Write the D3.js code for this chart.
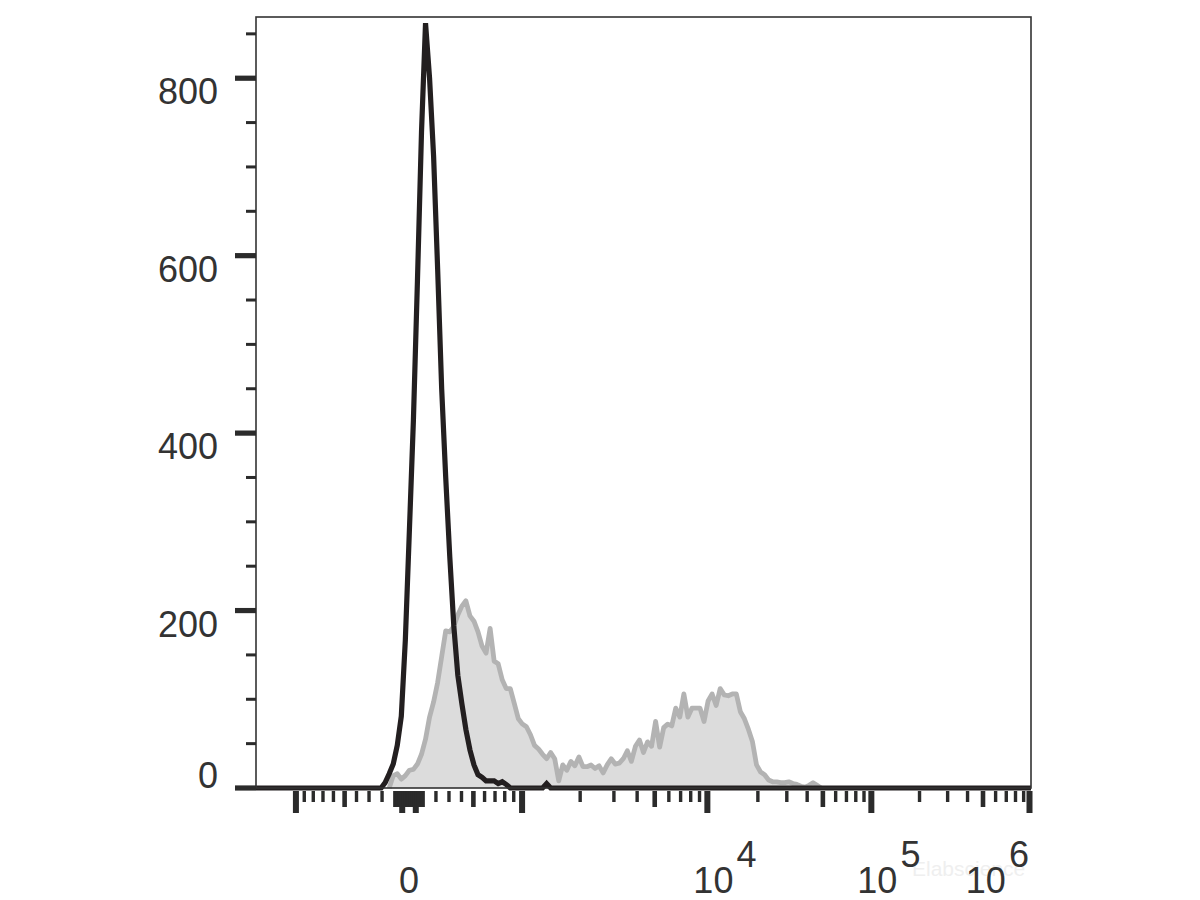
<!DOCTYPE html>
<html><head><meta charset="utf-8">
<script src="https://cdn.jsdelivr.net/npm/d3@7"></script>
<style>body{margin:0;background:#fff} text{font-family:"Liberation Sans",Arial,sans-serif}</style>
</head><body><svg id="chart" width="1200" height="900"></svg>
<script>
// ---------------- data ----------------
const channelCount = 192;           // histogram channels across the biexponential axis
const grayStart = 33;               // first channel of the stained (filled, gray) histogram
const grayCounts = [0,14,16,10,14,20,21,27,38,55,
  80,97,119,148,177,176,182,195,205,211,
  194,188,176,160,152,180,143,140,122,112,
  112,95,78,72,69,60,48,44,38,33,
  40,33,8,26,20,30,25,35,24,24,
  26,22,25,17,26,33,27,28,33,42,
  30,47,54,40,52,47,75,46,68,72,
  70,90,80,106,80,90,90,90,75,98,
  106,93,112,105,104,106,106,86,78,66,
  52,26,18,15,9,7,7,6,6,7,
  5,4,2,1,3,6,3,0];
const blackStart = 31;              // first channel of the control (black line) histogram
const blackCounts = [0,6,16,27,48,81,167,290,415,572,
  739,862,800,712,585,450,350,261,183,127,
  95,66,43,26,15,12,8,8,8,5,
  7,4,0,0,0,0,0,0,0,0,
  0,5,0];
const yMajorTicks = [0,200,400,600,800];
const yMajorLabels = ["0","200","400","600","800"];
const yMinorTicks = [50,100,150,250,300,350,450,500,550,650,700,750,850];
const xLabelValues = [0,1e4,1e5,1e6];
const xLabelBases = ["0","10","10","10"];
const xLabelExponents = ["","4","5","6"];
const xLongTicks = [-1000,-50,50,1000,1e4,1e5,1e6];
const xMediumTicks = [-500,500,5e3,5e4,5e5,-100,-90,-80,-70,-60,-40,-30,-20,-10,0,10,20,30,40,60,70,80,90,100];
const xShortTicks = [-900,-800,-700,-600,-400,-300,-200,200,300,400,600,700,800,900,
  2e3,3e3,4e3,6e3,7e3,8e3,9e3,2e4,3e4,4e4,6e4,7e4,8e4,9e4,2e5,3e5,4e5,6e5,7e5,8e5,9e5];
const yMax = 869;

// ---------------- logicle transform ----------------
const LP = 3.15, LK = 122.46;
function logicleInv(u){const s=Math.sign(u),a=Math.abs(u);return s*LK*(Math.pow(10,a)-LP*LP*Math.pow(10,-a/LP)+LP*LP-1);}
function logicle(v){const s=Math.sign(v),a=Math.abs(v);let lo=0,hi=7;for(let i=0;i<60;i++){const m=(lo+hi)/2;if(logicleInv(m)<a)lo=m;else hi=m;}return s*(lo+hi)/2;}
const uMin = -0.9623, uMax = 3.912;

// ---------------- layout ----------------
const L=256,R=1031,T=17,B=788;
const svg=d3.select("#chart");
const x=d3.scaleLinear().domain([uMin,uMax]).range([L,R]);
const chan=d3.scaleLinear().domain([0,channelCount]).range([uMin,uMax]);
const y=d3.scaleLinear().domain([0,yMax]).range([B,T]);
const xv=v=>x(logicle(v));

// watermark
svg.append("text").attr("x",912).attr("y",876).attr("font-size",21).attr("fill","#efefef").text("Elabscience");

// build series
function series(start,counts){
  const full=d3.range(channelCount+1).map(c=>({c,v:0}));
  counts.forEach((v,i)=>{if(start+i<=channelCount) full[start+i].v=v;});
  return full;
}
const gray=series(grayStart,grayCounts).filter(d=>d.c>=grayStart&&d.c<grayStart+grayCounts.length);
const black=series(blackStart,blackCounts);

const area=d3.area().x(d=>x(chan(d.c))).y0(y(0)).y1(d=>y(d.v));
const line=d3.line().x(d=>x(chan(d.c))).y(d=>y(d.v));
svg.append("path").datum(gray).attr("d",area).attr("fill","#dcdcdc");
svg.append("path").datum(gray).attr("d",line).attr("fill","none").attr("stroke","#b3b3b3").attr("stroke-width",4.8).attr("stroke-linejoin","round");
svg.append("path").datum(black).attr("d",line).attr("fill","none").attr("stroke","#231f20").attr("stroke-width",5.2);

// frame
svg.append("rect").attr("x",L).attr("y",T).attr("width",R-L).attr("height",B-T).attr("fill","none").attr("stroke","#333").attr("stroke-width",1.6);

// y ticks
const tickCol="#2b2b2b";
svg.selectAll(".ymaj").data(yMajorTicks).enter().append("rect").attr("x",235).attr("y",d=>y(d)-2.6).attr("width",L-235).attr("height",5.2).attr("fill",tickCol);
svg.selectAll(".ymin").data(yMinorTicks).enter().append("rect").attr("x",246).attr("y",d=>y(d)-1.5).attr("width",L-246).attr("height",3).attr("fill",tickCol);
svg.selectAll(".ylab").data(yMajorTicks).enter().append("text")
  .attr("x",218).attr("y",d=>d===0?y(d):y(d)+26).attr("text-anchor","end")
  .attr("font-size",36).attr("fill","#333").text((d,i)=>yMajorLabels[i]);

// x ticks
const xt=791;
svg.selectAll(".xl").data(xLongTicks).enter().append("rect").attr("x",d=>Math.min(xv(d)-3,R+1.5-6)).attr("y",xt).attr("width",6).attr("height",22).attr("fill",tickCol);
svg.selectAll(".xm").data(xMediumTicks).enter().append("rect").attr("x",d=>xv(d)-2.3).attr("y",xt).attr("width",4.6).attr("height",16).attr("fill",tickCol);
svg.selectAll(".xs").data(xShortTicks).enter().append("rect").attr("x",d=>xv(d)-1.7).attr("y",xt).attr("width",3.4).attr("height",11).attr("fill",tickCol);

// x labels
xLabelValues.forEach((v,i)=>{
  const px=xv(v);
  const t=svg.append("text").attr("y",893).attr("font-size",36).attr("fill","#333");
  if(xLabelExponents[i]===""){t.attr("x",px).attr("text-anchor","middle").text(xLabelBases[i]);return;}
  const last=i===xLabelValues.length-1;
  t.attr("x",last?px-2:px-14).attr("text-anchor",last?"end":"start");
  t.append("tspan").text(xLabelBases[i]);
  t.append("tspan").attr("dx",3).attr("dy",-26).text(xLabelExponents[i]);
});
</script></body></html>
